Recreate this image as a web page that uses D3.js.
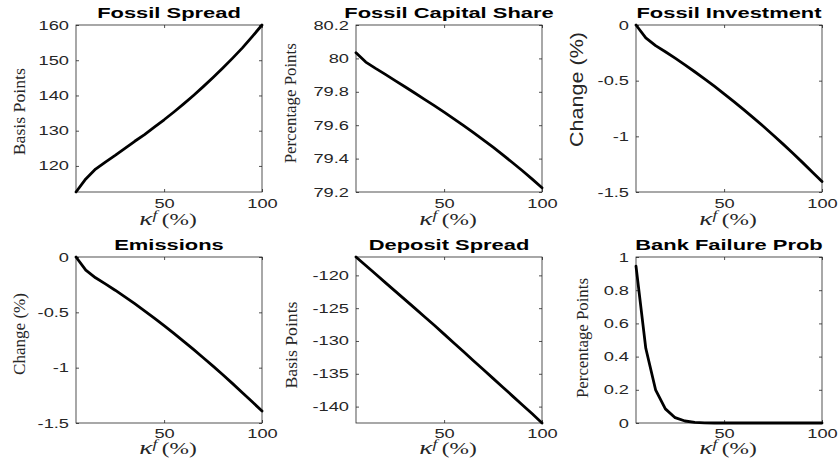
<!DOCTYPE html>
<html><head><meta charset="utf-8">
<script src="https://cdn.jsdelivr.net/npm/d3@7"></script>
<style>body{margin:0;background:#fff;} svg{display:block;}</style>
</head><body>
<script>
// ---------- DATA ----------
const kappa = [5,10,15,20,25,30,35,40,45,50,55,60,65,70,75,80,85,90,95,100];
const fossilSpread = [112.6,116.3,119.1,121.1,123.0,125.0,127.0,128.9,131.0,133.1,135.3,137.6,140.0,142.5,145.1,147.8,150.6,153.5,156.7,160.0];
const fossilCapitalShare = [80.034,79.978,79.94,79.904,79.867,79.83,79.793,79.755,79.717,79.678,79.638,79.597,79.555,79.512,79.468,79.422,79.375,79.327,79.277,79.225];
const fossilInvestment = [0,-0.115,-0.185,-0.24,-0.298,-0.358,-0.42,-0.484,-0.55,-0.618,-0.688,-0.76,-0.834,-0.91,-0.988,-1.068,-1.15,-1.234,-1.32,-1.406];
const emissions = [0,-0.118,-0.188,-0.243,-0.3,-0.36,-0.422,-0.486,-0.552,-0.62,-0.69,-0.762,-0.835,-0.91,-0.986,-1.064,-1.144,-1.226,-1.308,-1.392];
const depositSpread = [-117.2,-118.5,-119.8,-121.1,-122.4,-123.7,-125.0,-126.3,-127.6,-128.95,-130.3,-131.65,-133.0,-134.35,-135.7,-137.05,-138.4,-139.75,-141.1,-142.5];
const bankFailureProb = [0.945,0.45,0.2,0.085,0.032,0.012,0.004,0.001,0,0,0,0,0,0,0,0,0,0,0,0];

const titles = ["Fossil Spread","Fossil Capital Share","Fossil Investment","Emissions","Deposit Spread","Bank Failure Prob"];
const yLabels = ["Basis Points","Percentage Points","Change (%)","Change (%)","Basis Points","Percentage Points"];
const xDomain = [5,100];
const xTickValues = [50,100];
const xTickLabels = ["50","100"];
const yDomains = [[112.6,160],[79.2,80.2],[-1.5,0],[-1.5,0],[-142.5,-117.2],[0,1]];
const yTickValues = [[120,130,140,150,160],[79.2,79.4,79.6,79.8,80,80.2],[-1.5,-1,-0.5,0],[-1.5,-1,-0.5,0],[-140,-135,-130,-125,-120],[0,0.2,0.4,0.6,0.8,1]];
const yTickLabels = [["120","130","140","150","160"],["79.2","79.4","79.6","79.8","80","80.2"],["-1.5","-1","-0.5","0"],["-1.5","-1","-0.5","0"],["-140","-135","-130","-125","-120"],["0","0.2","0.4","0.6","0.8","1"]];
const series = [fossilSpread,fossilCapitalShare,fossilInvestment,emissions,depositSpread,bankFailureProb];

// ---------- LAYOUT / STYLE ----------
const W=839,H=458;
const cols=[[76,262],[356,542],[636,822]];
const rows=[[25,192],[257,423]];
const xLabOffset=[32.5,30.5];
const xTickOffset=[15.5,14.5];
const SANS="'Liberation Sans', Arial, Helvetica, sans-serif";
const SERIF="'Liberation Serif', 'Times New Roman', serif";
const K=1.46;
const AX="#262626";
// y-label placement: [baseline x, center y, length, serif?]
const yLabPos=[[25,111.7,87,true],[296,103.3,120,true],[583,89.5,115,false],[24.5,334,82,true],[297,345,87,true],[588,338,120,true]];

function stretch(sel,k){
  sel.each(function(){
    const L=this.getComputedTextLength();
    d3.select(this).attr("textLength",L*k).attr("lengthAdjust","spacingAndGlyphs");
  });
}

const svg=d3.select("body").append("svg").attr("width",W).attr("height",H);
svg.append("rect").attr("width",W).attr("height",H).attr("fill","#fff");

series.forEach((data,i)=>{
  const r=Math.floor(i/3);
  const [x0,x1]=cols[i%3],[y0,y1]=rows[r];
  const x=d3.scaleLinear().domain(xDomain).range([x0,x1]);
  const y=d3.scaleLinear().domain(yDomains[i]).range([y1,y0]);
  const g=svg.append("g");

  // left axis with labels
  const gl=g.append("g").attr("transform",`translate(${x0},0)`)
    .call(d3.axisLeft(y).tickValues(yTickValues[i]).tickFormat((d,j)=>yTickLabels[i][j]).tickSizeInner(-3).tickSizeOuter(0).tickPadding(7));
  gl.select(".domain").remove();
  gl.attr("font-family",SANS).attr("font-size",12.5);
  gl.selectAll("line").attr("stroke",AX).attr("stroke-width",0.8);
  gl.selectAll("text").attr("fill",AX);
  stretch(gl.selectAll("text"),K);

  // right mirror ticks
  const gr=g.append("g").attr("transform",`translate(${x1},0)`)
    .call(d3.axisRight(y).tickValues(yTickValues[i]).tickFormat("").tickSizeInner(-3).tickSizeOuter(0));
  gr.select(".domain").remove();
  gr.selectAll("line").attr("stroke",AX).attr("stroke-width",0.8);

  // bottom axis
  const gb=g.append("g").attr("transform",`translate(0,${y1})`)
    .call(d3.axisBottom(x).tickValues(xTickValues).tickFormat((d,j)=>xTickLabels[j]).tickSizeInner(-3).tickSizeOuter(0));
  gb.select(".domain").remove();
  gb.attr("font-family",SANS).attr("font-size",12.5);
  gb.selectAll("line").attr("stroke",AX).attr("stroke-width",0.8);
  gb.selectAll("text").attr("y",xTickOffset[r]).attr("dy",0).attr("fill",AX);
  stretch(gb.selectAll("text"),K);

  // top mirror ticks
  const gt=g.append("g").attr("transform",`translate(0,${y0})`)
    .call(d3.axisTop(x).tickValues(xTickValues).tickFormat("").tickSizeInner(-3).tickSizeOuter(0));
  gt.select(".domain").remove();
  gt.selectAll("line").attr("stroke",AX).attr("stroke-width",0.8);

  // box
  g.append("rect").attr("x",x0).attr("y",y0).attr("width",x1-x0).attr("height",y1-y0)
    .attr("fill","none").attr("stroke",AX).attr("stroke-width",0.8);

  // line
  const line=d3.line().x((d,j)=>x(kappa[j])).y(d=>y(d));
  g.append("path").datum(data).attr("d",line).attr("fill","none")
    .attr("stroke","#000").attr("stroke-width",2.8).attr("stroke-linejoin","round").attr("stroke-linecap","round");

  // title
  const t=g.append("text").attr("x",(x0+x1)/2).attr("y",y0-6.7).attr("text-anchor","middle")
    .attr("font-family",SANS).attr("font-weight","bold").attr("font-size",15).attr("fill","#000").text(titles[i]);
  stretch(t,K);

  // x label (κ^f (%)), horizontally stretched like the other upright texts
  const xl=g.append("text").attr("transform",`translate(${(x0+x1)/2-1},${y1+xLabOffset[r]}) scale(${K},1)`).attr("text-anchor","middle")
    .attr("font-family",SERIF).attr("font-size",16).attr("fill",AX);
  xl.append("tspan").attr("font-style","italic").attr("font-size",19).text("κ");
  xl.append("tspan").attr("font-style","italic").attr("font-size",12).attr("dy",-6).text("f");
  xl.append("tspan").attr("dy",6).attr("dx",3).text("(%)");

  // y label
  const [bx,cy,len,serif]=yLabPos[i];
  g.append("text").attr("transform",`translate(${bx},${cy}) rotate(-90)`).attr("text-anchor","middle")
    .attr("font-family",serif?SERIF:SANS).attr("font-size",serif?17.5:19).attr("fill",AX)
    .attr("textLength",len).attr("lengthAdjust","spacingAndGlyphs").text(yLabels[i]);
});
</script>
</body></html>
